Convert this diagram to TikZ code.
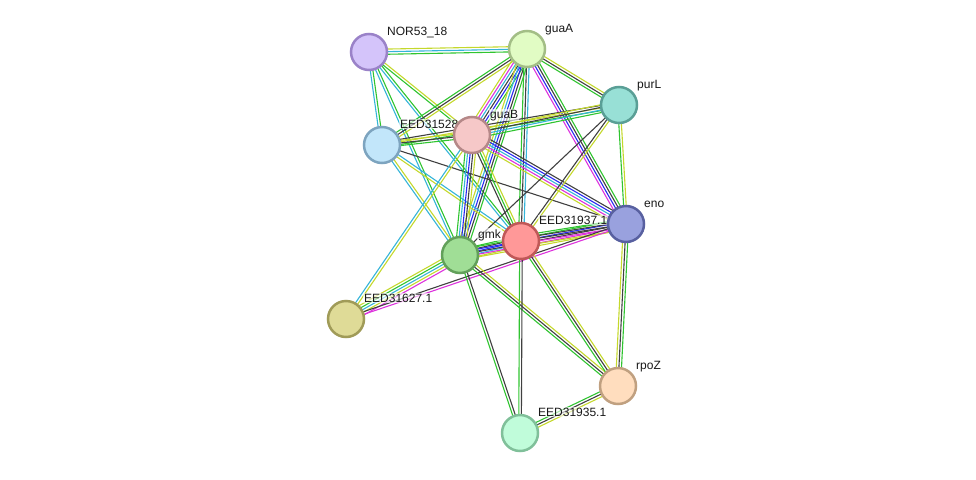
\documentclass[tikz,border=0pt]{standalone}
\usepackage{fontspec}
\setmainfont{Liberation Sans}
\usetikzlibrary{calc}

\pgfdeclarelayer{edges}
\pgfdeclarelayer{labels}
\pgfsetlayers{edges,labels,main}

% evidence channels
\definecolor{neighborhood}{HTML}{30C430}
\definecolor{textmining}{HTML}{C4D82C}
\definecolor{coexpression}{HTML}{404040}
\definecolor{databases}{HTML}{35B4D8}
\definecolor{experiments}{HTML}{DD33DD}
\definecolor{cooccurrence}{HTML}{2A2AF2}

% one line per channel, side by side
\newcommand{\evidence}[3]{%
  \foreach \c [count=\k] in {#3} {\xdef\nlines{\k}}%
  \foreach \c [count=\k] in {#3} {%
    \pgfmathsetmacro{\off}{(\k-(\nlines+1)/2)*2.6}%
    \draw[link,\c] ($(#1.center)!\off pt!90:(#2.center)$) -- ($(#2.center)!\off pt!-90:(#1.center)$);%
  }%
}

\begin{document}
\begin{tikzpicture} [
    x=1pt, y=-1pt,
    prot/.style  = { circle, line width=2.5pt, minimum size=36pt,
                     inner sep=0pt },
    link/.style  = { line width=1.1pt },
    tag/.style   = { anchor=base west, inner sep=1pt, text=black!90,
                     fill=white, fill opacity=0.6, text opacity=1,
                     font=\fontsize{12}{14}\selectfont },
  ]
  \useasboundingbox (0,0) rectangle (976,479);

  % proteins
  \node[prot, fill={rgb,255:red,212;green,196;blue,250}, draw={rgb,255:red,154;green,130;blue,200}] (nor)  at (369,52)  {};
  \node[prot, fill={rgb,255:red,225;green,252;blue,196}, draw={rgb,255:red,163;green,190;blue,134}] (guaA) at (527,49)  {};
  \node[prot, fill={rgb,255:red,152;green,224;blue,214}, draw={rgb,255:red,90;green,159;blue,150}]  (purL) at (619,105) {};
  \node[prot, fill={rgb,255:red,194;green,230;blue,250}, draw={rgb,255:red,125;green,164;blue,191}] (eedA) at (382,145) {};
  \node[prot, fill={rgb,255:red,246;green,200;blue,200}, draw={rgb,255:red,181;green,136;blue,136}] (guaB) at (472,135) {};
  \node[prot, fill={rgb,255:red,153;green,161;blue,222}, draw={rgb,255:red,88;green,96;blue,160}]   (eno)  at (626,224) {};
  \node[prot, fill={rgb,255:red,255;green,152;blue,152}, draw={rgb,255:red,192;green,88;blue,88}]   (eedB) at (521,241) {};
  \node[prot, fill={rgb,255:red,160;green,222;blue,150}, draw={rgb,255:red,98;green,160;blue,90}]   (gmk)  at (460,255) {};
  \node[prot, fill={rgb,255:red,223;green,219;blue,151}, draw={rgb,255:red,160;green,155;blue,88}]  (eedC) at (346,319) {};
  \node[prot, fill={rgb,255:red,255;green,221;blue,190}, draw={rgb,255:red,192;green,160;blue,128}] (rpoZ) at (618,386) {};
  \node[prot, fill={rgb,255:red,192;green,252;blue,218}, draw={rgb,255:red,128;green,192;blue,154}] (eedD) at (520,433) {};

  % names
  \begin{pgfonlayer}{labels}
    \node[tag] (norL)  at ([shift={(17,-17)}]nor.center)  {NOR53\_18};
    \node[tag] (guaAL) at ([shift={(17,-17)}]guaA.center) {guaA};
    \node[tag] (purLL) at ([shift={(17,-17)}]purL.center) {purL};
    \node[tag] (eedAL) at ([shift={(17,-17)}]eedA.center) {EED31528.1};
    \node[tag] (guaBL) at ([shift={(17,-17)}]guaB.center) {guaB};
    \node[tag] (enoL)  at ([shift={(17,-17)}]eno.center)  {eno};
    \node[tag] (eedBL) at ([shift={(17,-17)}]eedB.center) {EED31937.1};
    \node[tag] (gmkL)  at ([shift={(17,-17)}]gmk.center)  {gmk};
    \node[tag] (eedCL) at ([shift={(17,-17)}]eedC.center) {EED31627.1};
    \node[tag] (rpoZL) at ([shift={(17,-17)}]rpoZ.center) {rpoZ};
    \node[tag] (eedDL) at ([shift={(17,-17)}]eedD.center) {EED31935.1};
  \end{pgfonlayer}

  % connect the proteins
  \begin{pgfonlayer}{edges}
    \evidence{nor}{guaA}{neighborhood,databases,textmining}
    \evidence{nor}{eedA}{databases,neighborhood}
    \evidence{nor}{guaB}{neighborhood,textmining}
    \evidence{nor}{gmk}{databases,neighborhood}
    \evidence{nor}{eedB}{databases,neighborhood}
    \evidence{guaA}{purL}{neighborhood,coexpression,textmining}
    \evidence{guaA}{eedA}{neighborhood,coexpression,textmining}
    \evidence{guaA}{guaB}{textmining,experiments,databases,coexpression,cooccurrence,neighborhood}
    \evidence{guaA}{gmk}{textmining,databases,cooccurrence,coexpression,neighborhood}
    \evidence{guaA}{eedB}{neighborhood,coexpression,databases}
    \evidence{guaA}{eno}{experiments,cooccurrence,coexpression,neighborhood}
    \evidence{eedA}{purL}{neighborhood,textmining,coexpression}
    \evidence{guaB}{purL}{neighborhood,databases,coexpression,textmining}
    \evidence{eedA}{guaB}{neighborhood,coexpression,textmining}
    \evidence{eedA}{eno}{coexpression}
    \evidence{eedA}{eedB}{textmining,databases}
    \evidence{eedA}{gmk}{databases,textmining}
    \evidence{guaB}{gmk}{neighborhood,databases,cooccurrence,coexpression,textmining}
    \evidence{guaB}{eedB}{coexpression,neighborhood,textmining}
    \evidence{guaB}{eno}{textmining,experiments,databases,cooccurrence,coexpression}
    \evidence{guaB}{eedC}{databases,textmining}
    \evidence{purL}{eno}{neighborhood,textmining}
    \evidence{purL}{gmk}{coexpression}
    \evidence{purL}{eedB}{coexpression,textmining}
    \evidence{gmk}{eedB}{textmining,databases,cooccurrence,coexpression,neighborhood}
    \evidence{gmk}{eno}{textmining,experiments,coexpression,cooccurrence,neighborhood}
    \evidence{eedB}{eno}{textmining,experiments,coexpression,coexpression,neighborhood}
    \evidence{eedC}{gmk}{experiments,textmining,databases,neighborhood,textmining}
    \evidence{eedC}{eno}{experiments,coexpression}
    \evidence{gmk}{rpoZ}{neighborhood,coexpression,textmining}
    \evidence{gmk}{eedD}{neighborhood,coexpression}
    \evidence{eedB}{eedD}{neighborhood,coexpression}
    \evidence{eedB}{rpoZ}{neighborhood,coexpression,textmining}
    \evidence{eno}{rpoZ}{textmining,coexpression,neighborhood}
    \evidence{rpoZ}{eedD}{neighborhood,coexpression,textmining}
  \end{pgfonlayer}
\end{tikzpicture}
\end{document}
